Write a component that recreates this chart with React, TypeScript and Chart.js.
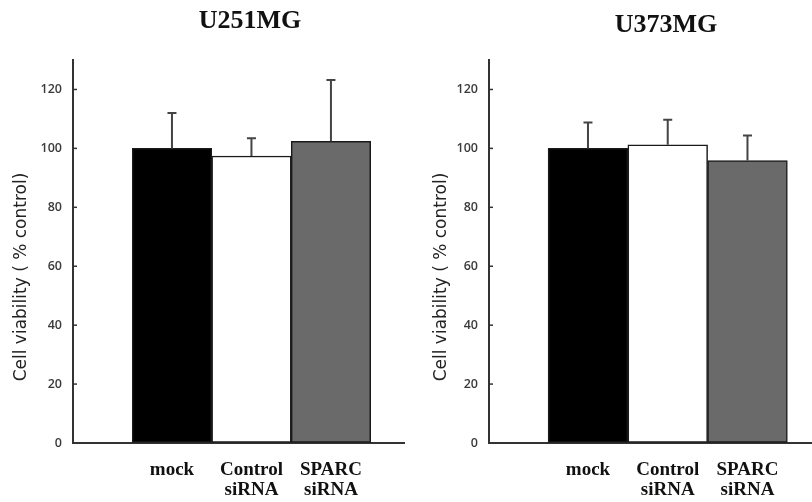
import { useEffect, useRef } from 'react';
import { Chart, registerables } from 'chart.js';

Chart.register(...registerables);

const categories: string[][] = [['mock'], ['Control', 'siRNA'], ['SPARC', 'siRNA']];
const positions = [1, 2, 3];
const u251Values = [100, 97.4, 102.4];
const u251ErrorTops = [112, 103.4, 123.2];
const u373Values = [100, 101.2, 95.9];
const u373ErrorTops = [108.8, 109.7, 104.4];
const yTicks = [0, 20, 40, 60, 80, 100, 120];
const yTitle = 'Cell viability ( % control)';
const barColors = ['#000000', '#ffffff', '#6a6a6a'];

type PanelProps = {
  title: string;
  values: number[];
  errorTops: number[];
  xMin: number;
  xMax: number;
  axisWidth: number;
  padRight: number;
  titleY: number;
  yTitleOffset: number;
};

function Panel(props: PanelProps) {
  const ref = useRef<HTMLCanvasElement | null>(null);
  useEffect(() => {
    const canvas = ref.current;
    if (!canvas) return;
    const p = props;
    const overlay = {
      id: 'overlay',
      afterDatasetsDraw(chart: any) {
        const ctx = chart.ctx;
        const xs = chart.scales.x;
        const ys = chart.scales.y;
        ctx.save();
        ctx.strokeStyle = '#444';
        ctx.lineWidth = 2;
        p.errorTops.forEach((top, i) => {
          const x = xs.getPixelForValue(positions[i]);
          const y0 = ys.getPixelForValue(p.values[i]);
          const y1 = ys.getPixelForValue(top);
          ctx.beginPath();
          ctx.moveTo(x, y0);
          ctx.lineTo(x, y1);
          ctx.moveTo(x - 4.5, y1);
          ctx.lineTo(x + 4.5, y1);
          ctx.stroke();
        });
        ctx.restore();
      },
      afterDraw(chart: any) {
        const ctx = chart.ctx;
        const area = chart.chartArea;
        const ys = chart.scales.y;
        ctx.save();
        // inward tick marks
        ctx.strokeStyle = '#333';
        ctx.lineWidth = 1.5;
        yTicks.forEach((v) => {
          if (v === 0) return;
          const y = ys.getPixelForValue(v);
          ctx.beginPath();
          ctx.moveTo(area.left, y);
          ctx.lineTo(area.left + 4, y);
          ctx.stroke();
        });
        // panel title
        ctx.fillStyle = '#111';
        ctx.font = 'bold 26px "Liberation Serif", serif';
        ctx.textAlign = 'center';
        ctx.textBaseline = 'middle';
        ctx.fillText(p.title, area.left + 177, p.titleY);
        // y-axis title
        ctx.translate(area.left - p.yTitleOffset, 277);
        ctx.rotate(-Math.PI / 2);
        ctx.font = '17px "DejaVu Sans", sans-serif';
        ctx.fillStyle = '#222';
        ctx.fillText(yTitle, 0, 0);
        ctx.restore();
      },
    };
    const chart = new Chart(canvas, {
      type: 'bar',
      data: {
        datasets: [
          {
            data: positions.map((x, i) => ({ x, y: p.values[i] })),
            backgroundColor: barColors,
            borderColor: '#1a1a1a',
            borderWidth: 1.5,
            borderSkipped: false,
            barPercentage: 1,
            categoryPercentage: 1,
          } as any,
        ],
      },
      options: {
        animation: false,
        responsive: false,
        layout: { padding: { top: 60, right: p.padRight, left: 0, bottom: 0 } },
        plugins: {
          legend: { display: false },
          tooltip: { enabled: false },
          title: { display: false },
        },
        scales: {
          x: {
            type: 'linear',
            min: p.xMin,
            max: p.xMax,
            offset: false,
            grid: { drawOnChartArea: false, drawTicks: false },
            border: { display: true, color: '#333', width: 2 },
            ticks: {
              autoSkip: false,
              maxRotation: 0,
              padding: 17,
              color: '#111',
              font: { family: '"Liberation Serif", serif', weight: 'bold', size: 19, lineHeight: 1.05 },
              callback: (value: any) => categories[Number(value) - 1] ?? '',
            },
            afterBuildTicks: (s: any) => {
              s.ticks = positions.map((v) => ({ value: v }));
            },
            afterFit: (s: any) => {
              s.height = 59;
            },
          },
          y: {
            min: 0,
            max: 130,
            grid: { drawOnChartArea: false, drawTicks: false },
            border: { display: true, color: '#333', width: 2 },
            ticks: {
              padding: 11,
              color: '#3a3a3a',
              font: { family: '"Open Sans", sans-serif', weight: '600', size: 12.5 },
            },
            afterBuildTicks: (s: any) => {
              s.ticks = yTicks.map((v) => ({ value: v }));
            },
            afterFit: (s: any) => {
              s.width = p.axisWidth;
            },
          },
        } as any,
      },
      plugins: [overlay],
    });
    return () => chart.destroy();
  }, []);
  return <canvas ref={ref} width={406} height={502} style={{ display: 'block', width: 406, height: 502 }} />;
}

export default function App() {
  return (
    <div style={{ position: 'fixed', left: 0, top: 0, width: 812, height: 502, display: 'flex', background: '#fff' }}>
      <Panel title="U251MG" values={u251Values} errorTops={u251ErrorTops} xMin={-0.245} xMax={3.919} axisWidth={73} padRight={2} titleY={21.5} yTitleOffset={51} />
      <Panel title="U373MG" values={u373Values} errorTops={u373ErrorTops} xMin={-0.241} xMax={3.809} axisWidth={83} padRight={0} titleY={25.5} yTitleOffset={47} />
    </div>
  );
}
